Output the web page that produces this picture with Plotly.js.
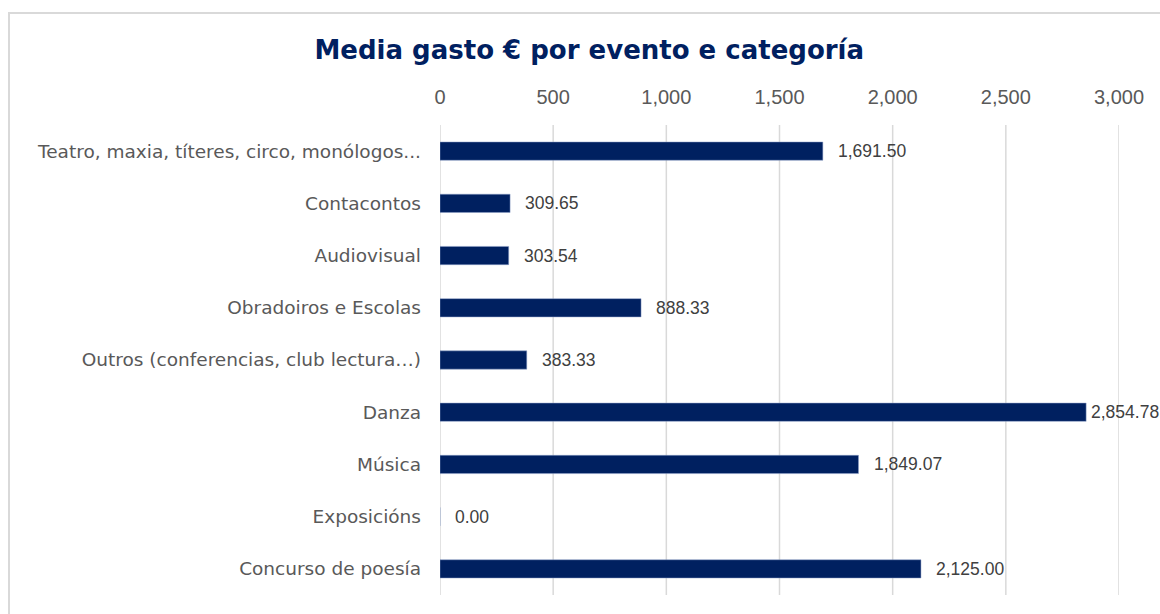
<!DOCTYPE html>
<html>
<head>
<meta charset="utf-8">
<script src="https://cdn.plot.ly/plotly-3.0.1.min.js"></script>
<style>
  html, body { margin: 0; padding: 0; background: #ffffff; }
  #wrap { position: relative; width: 1160px; height: 614px; overflow: hidden; }
  #frame { position: absolute; left: 8px; top: 12px; width: 1200px; height: 700px; border: 2px solid #d9d9d9; box-sizing: border-box; }
  #chart { position: absolute; left: 0; top: 0; width: 1160px; height: 614px; }
</style>
</head>
<body>
<div id="wrap">
  <div id="frame"></div>
  <div id="chart"></div>
</div>
<script>
const categories = [
  "Teatro, maxia, títeres, circo, monólogos...",
  "Contacontos",
  "Audiovisual",
  "Obradoiros e Escolas",
  "Outros (conferencias, club lectura…)",
  "Danza",
  "Música",
  "Exposicións",
  "Concurso de poesía"
];
const values = [1691.50, 309.65, 303.54, 888.33, 383.33, 2854.78, 1849.07, 0.00, 2125.00];
const tickValues = [0, 500, 1000, 1500, 2000, 2500, 3000];
const tickLabels = ["0", "500", "1,000", "1,500", "2,000", "2,500", "3,000"];
const chartTitle = "Media gasto € por evento e categoría";

const fmt = v => v.toLocaleString("en-US", {minimumFractionDigits: 2, maximumFractionDigits: 2});

const VERDANA = "'DejaVu Sans', Verdana, sans-serif";
const ARIAL = "'Liberation Sans', Arial, sans-serif";
const X_MAX = 3000;

const trace = {
  type: "bar",
  orientation: "h",
  y: categories,
  x: values,
  width: 0.35,
  marker: { color: "#002060", line: { color: "#8ea0c8", width: 0.5 } },
  hoverinfo: "x+y"
};

// labels near the right edge are pulled closer to their bar so they fit
const annotations = categories.map((c, i) => ({
  x: values[i], y: c, xref: "x", yref: "y",
  text: fmt(values[i]), showarrow: false,
  xanchor: "left", yanchor: "middle",
  xshift: values[i] > 0.9 * X_MAX ? 3 : 13,
  font: { family: ARIAL, size: 17.5, color: "#404040" }
}));

const gridShapes = tickValues.map(v => ({
  type: "line", layer: "below",
  xref: "x", yref: "paper",
  x0: v, x1: v, y0: 0, y1: 1,
  line: { color: "#d9d9d9", width: 1.5 }
}));

const layout = {
  width: 1160, height: 614,
  paper_bgcolor: "rgba(0,0,0,0)",
  plot_bgcolor: "rgba(0,0,0,0)",
  margin: { l: 440, r: 41, t: 125, b: 19, pad: 0 },
  showlegend: false,
  title: {
    text: "<b>" + chartTitle + "</b>",
    x: 0.508, xanchor: "center", y: 0.918, yanchor: "middle",
    font: { family: VERDANA, size: 26, color: "#002060" }
  },
  xaxis: {
    side: "top",
    range: [0, X_MAX],
    tickvals: tickValues,
    ticktext: tickLabels,
    showgrid: false,
    zeroline: false, showline: false, ticks: "",
    ticklabelstandoff: 16,
    tickfont: { family: ARIAL, size: 20, color: "#595959" },
    fixedrange: true
  },
  yaxis: {
    autorange: "reversed",
    type: "category",
    showgrid: false, zeroline: false, showline: false, ticks: "",
    ticklabelstandoff: 18,
    tickfont: { family: VERDANA, size: 18.5, color: "#595959" },
    fixedrange: true
  },
  shapes: gridShapes,
  annotations: annotations
};

Plotly.newPlot("chart", [trace], layout, { displayModeBar: false, staticPlot: true });
</script>
</body>
</html>
